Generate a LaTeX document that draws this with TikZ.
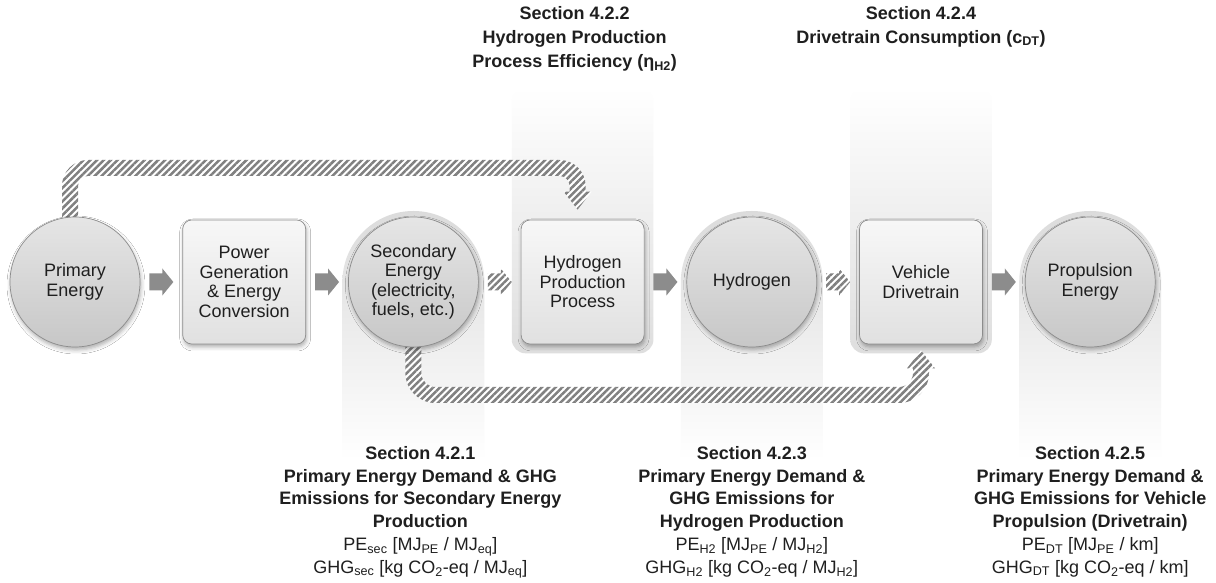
\documentclass[tikz,border=0pt]{standalone}
\usepackage{fontspec}
\setmainfont{Liberation Sans}
\usetikzlibrary{shapes.geometric,arrows.meta,positioning,shadows.blur,chains,calc,patterns.meta}
\pgfdeclarelayer{back}
\pgfdeclarelayer{mid}
\pgfsetlayers{back,mid,main}

\begin{document}
\begin{tikzpicture}
  [
    x=1pt, y=1pt,
    node distance=42,
    every node/.style={text=black!88},
    main node/.style={font=\fontsize{18}{19.5}\selectfont, align=center, inner sep=0, line width=0.7, draw=black!45, blur shadow={shadow xshift=1pt, shadow yshift=-3pt, shadow blur radius=4pt, shadow opacity=32}},
    disc/.style={main node, circle, minimum size=130, top color=black!10, bottom color=black!22},
    procbox/.style={main node, rectangle, rounded corners=9, minimum width=123, minimum height=124, top color=black!3, bottom color=black!12},
    sectext/.style={font=\bfseries\fontsize{18}{22.8}\selectfont, align=center, inner sep=0, anchor=north},
    solidarrow/.style={fill=black!45},
    hatcharrow/.style={preaction={fill=white}, pattern={Lines[angle=45, distance=4.8pt, line width=2.5pt]}, pattern color=black!50},
    start chain=flow going right,
  ]
  \useasboundingbox (0,0) rectangle (1216,583);

  % process chain
  \node [on chain, disc] (pe) at (75,301) {Primary\\Energy};
  \node [on chain, procbox] (pg) {Power\\Generation\\\& Energy\\Conversion};
  \node [on chain, disc] (sec) {Secondary\\Energy\\(electricity,\\fuels, etc.)};
  \node [on chain, procbox] (hpp) {Hydrogen\\Production\\Process};
  \node [on chain, disc] (hyd) {Hydrogen};
  \node [on chain, procbox] (vd) {Vehicle\\Drivetrain};
  \node [on chain, disc] (prop) {Propulsion\\Energy};

  % block arrows between the steps
  \foreach \a/\b/\k in {pe/pg/solidarrow, pg/sec/solidarrow, sec/hpp/hatcharrow, hpp/hyd/solidarrow, hyd/vd/hatcharrow, vd/prop/solidarrow}
    \path [\k] ($(\a.east)!.5!(\b.west)$) ++(-12,-8.5) -- ++(13,0) -- ++(0,-5) -- ++(11,13.5) -- ++(-11,13.5) -- ++(0,-5) -- ++(-13,0) -- cycle;

  % section labels
  \node [sectext, font=\bfseries\fontsize{18}{24}\selectfont] (t422) at ($(hpp.center |- 0,577)+(-8,0)$) {Section 4.2.2\\Hydrogen Production\\Process Efficiency (η\textsubscript{H2})};
  \node [sectext, font=\bfseries\fontsize{18}{24}\selectfont] (t424) at (vd.center |- 0,577) {Section 4.2.4\\Drivetrain Consumption (c\textsubscript{DT})};
  \node [sectext] (s421) at ($(sec.center |- 0,137)+(7,0)$) {Section 4.2.1\\Primary Energy Demand \& GHG\\Emissions for Secondary Energy\\Production\\\mdseries PE\textsubscript{sec} [MJ\textsubscript{PE} / MJ\textsubscript{eq}]\\\mdseries GHG\textsubscript{sec} [kg CO\textsubscript{2}-eq / MJ\textsubscript{eq}]};
  \node [sectext] (s423) at (hyd.center |- 0,137) {Section 4.2.3\\Primary Energy Demand \&\\GHG Emissions for\\Hydrogen Production\\\mdseries PE\textsubscript{H2} [MJ\textsubscript{PE} / MJ\textsubscript{H2}]\\\mdseries GHG\textsubscript{H2} [kg CO\textsubscript{2}-eq / MJ\textsubscript{H2}]};
  \node [sectext] (s425) at (prop.center |- 0,137) {Section 4.2.5\\Primary Energy Demand \&\\GHG Emissions for Vehicle\\Propulsion (Drivetrain)\\\mdseries PE\textsubscript{DT} [MJ\textsubscript{PE} / km]\\\mdseries GHG\textsubscript{DT} [kg CO\textsubscript{2}-eq / km]};

  % hatched bypass arrows
  \begin{pgfonlayer}{mid}
    \path [hatcharrow] let \p1=($(pe.north)+(-5,0)$), \p2=($(hpp.north)+(-5,0)$) in
      (\x1-8,\y1-25) -- (\x1-8,397) .. controls (\x1-8,411.4) and (\x1+3.6,423) .. (\x1+18,423)
      -- (\x2-18,423) .. controls (\x2-3.6,423) and (\x2+8,411.4) .. (\x2+8,397)
      -- (\x2+8,\y2+28) -- (\x2+14,\y2+28) -- (\x2,\y2+10) -- (\x2-14,\y2+28) -- (\x2-8,\y2+28)
      -- (\x2-8,397) .. controls (\x2-8,402.5) and (\x2-12.5,407) .. (\x2-18,407)
      -- (\x1+18,407) .. controls (\x1+12.5,407) and (\x1+8,402.5) .. (\x1+8,397) -- (\x1+8,\y1-25) -- cycle;
    \path [hatcharrow] let \p1=(sec.south), \p2=(vd.south) in
      (\x1-8,\y1+25) -- (\x1-8,210) .. controls (\x1-8,193.4) and (\x1+5.4,180) .. (\x1+22,180)
      -- (\x2-22,180) .. controls (\x2-5.4,180) and (\x2+8,193.4) .. (\x2+8,210)
      -- (\x2+8,\y2-24) -- (\x2+14,\y2-24) -- (\x2,\y2-6) -- (\x2-14,\y2-24) -- (\x2-8,\y2-24)
      -- (\x2-8,210) .. controls (\x2-8,202.3) and (\x2-14.3,196) .. (\x2-22,196)
      -- (\x1+22,196) .. controls (\x1+14.3,196) and (\x1+8,202.3) .. (\x1+8,210) -- (\x1+8,\y1+25) -- cycle;
  \end{pgfonlayer}

  % shaded columns behind the sections
  \begin{pgfonlayer}{back}
    \fill [white] (0,0) rectangle (1216,583);
    \foreach \n in {sec, hyd, prop}
      \shade [top color=black!14, bottom color=white] ($(\n.center)+(-71,0)$) arc [start angle=180, end angle=0, radius=71] -- ($(\n.center)+(71,-178)$) -- ($(\n.center)+(-71,-178)$) -- cycle;
    \foreach \n in {hpp, vd}
      \shade [top color=white, bottom color=black!13, rounded corners=14] ($(\n.south west)+(-9,-9)$) rectangle ($(\n.north east)+(9,132)$);
  \end{pgfonlayer}
\end{tikzpicture}
\end{document}
